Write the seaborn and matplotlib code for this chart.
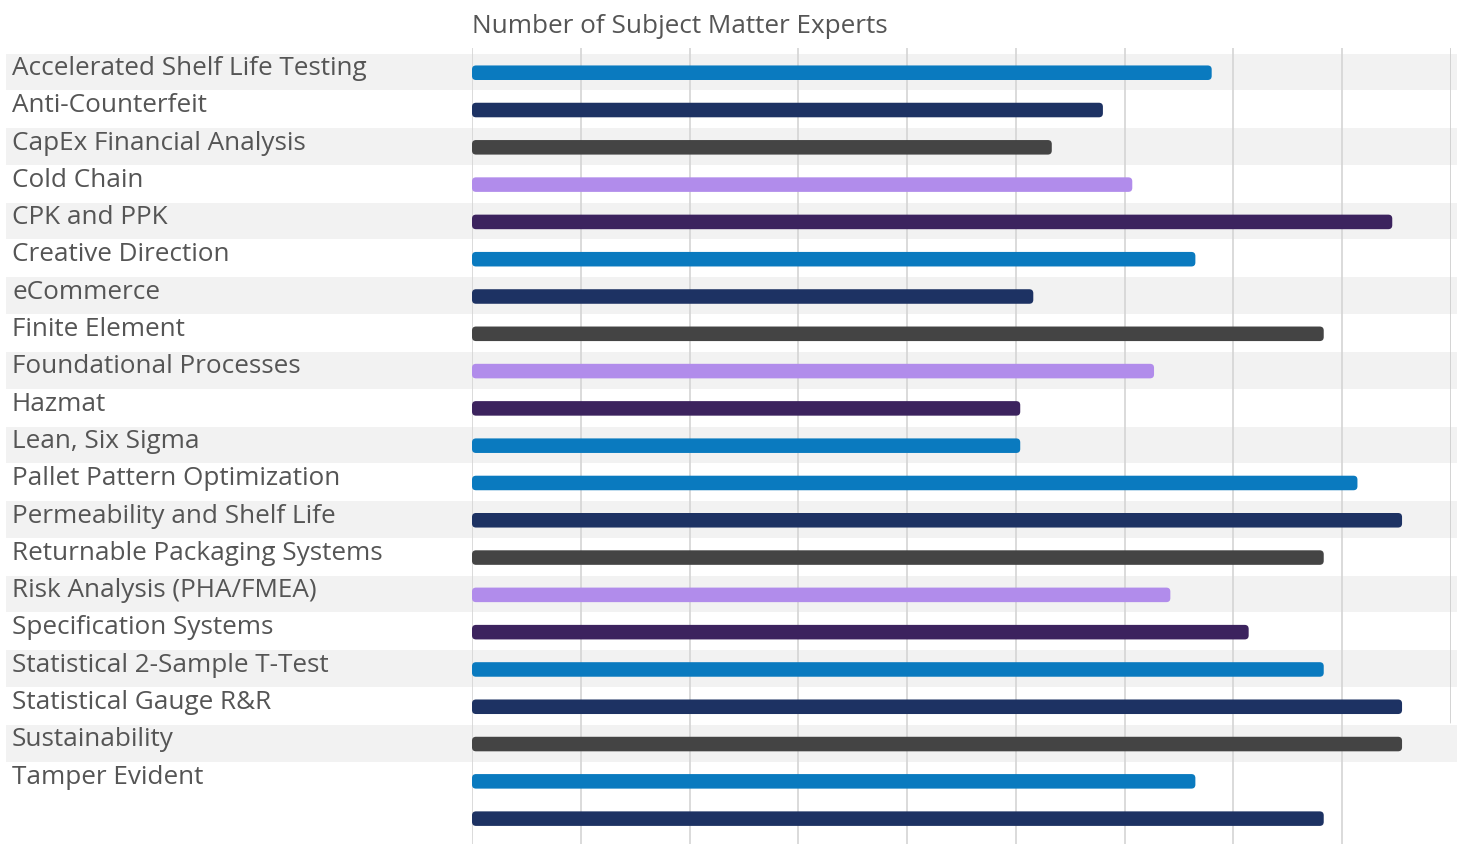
import seaborn as sns
import matplotlib.pyplot as plt
import pandas as pd
from matplotlib.patches import FancyBboxPatch
from matplotlib.transforms import blended_transform_factory

labels = ["Accelerated Shelf Life Testing", "Anti-Counterfeit", "CapEx Financial Analysis",
          "Cold Chain", "CPK and PPK", "Creative Direction", "eCommerce", "Finite Element",
          "Foundational Processes", "Hazmat", "Lean, Six Sigma", "Pallet Pattern Optimization",
          "Permeability and Shelf Life", "Returnable Packaging Systems", "Risk Analysis (PHA/FMEA)",
          "Specification Systems", "Statistical 2-Sample T-Test", "Statistical Gauge R&R",
          "Sustainability", "Tamper Evident"]
# 21 bars in the picture, the last one has no label
rows = labels + [" "]
experts = [68.0, 58.0, 53.3, 60.7, 84.6, 66.5, 51.6, 78.3, 62.7, 50.4, 50.4,
           81.4, 85.5, 78.3, 64.2, 71.4, 78.3, 85.5, 85.5, 66.5, 78.3]

blue, navy, gray, lav, purple = "#0a7abf", "#1d3263", "#444444", "#b18ceb", "#3c235e"
bar_colors = [blue, navy, gray, lav, purple, blue, navy, gray, lav, purple, blue,
              blue, navy, gray, lav, purple, blue, navy, gray, blue, navy]

df = pd.DataFrame({"row": rows, "experts": experts})

sns.set_style("white")
plt.rcParams["font.family"] = ["Open Sans", "DejaVu Sans"]
txt = "#555555"

fig = plt.figure(figsize=(14.64, 8.44), dpi=100)
ax = fig.add_axes([472 / 1464, 0, 979 / 1464, 796 / 844])

sns.barplot(data=df, x="experts", y="row", hue="row", palette=bar_colors, saturation=1,
            legend=False, orient="h", width=0.39, ax=ax, zorder=3)

# rounded bar ends
for p in list(ax.patches):
    x, y, w, h = p.get_x(), p.get_y(), p.get_width(), p.get_height()
    c = p.get_facecolor()
    p.remove()
    ax.add_patch(FancyBboxPatch((x, y + 0.02), w, h, boxstyle="round,pad=0,rounding_size=0.37",
                                mutation_aspect=0.29, facecolor=c, edgecolor="none", zorder=3))

ax.set_xlim(0, 90)
ax.set_ylim(20.7, -0.643)

# alternating row stripes
for i in range(0, 20, 2):
    ax.axhspan(i - 0.49, i + 0.49, xmin=-0.476, xmax=1.006, color="#f2f2f2",
               clip_on=False, zorder=0, lw=0)

for gx in range(0, 90, 10):
    ax.axvline(gx, color="#d4d4d4", lw=1.2, zorder=1)
ax.axvline(90, ymin=0.153, ymax=1, color="#cfcfcf", lw=2, zorder=1)

ax.set_xticks([])
ax.set_yticks([])
ax.set_xlabel("")
ax.set_ylabel("")
for s in ax.spines.values():
    s.set_visible(False)

tr = blended_transform_factory(fig.transFigure, ax.transData)
for i, lab in enumerate(labels):
    ax.text(12 / 1464, i + 0.08, lab, transform=tr, fontsize=18.8,
            color=txt, va="baseline", ha="left")

fig.text(472 / 1464, 1 - 33.3 / 844, "Number of Subject Matter Experts", fontsize=18.8,
         color=txt, va="baseline", ha="left")

fig.savefig("out.png", dpi=100)
